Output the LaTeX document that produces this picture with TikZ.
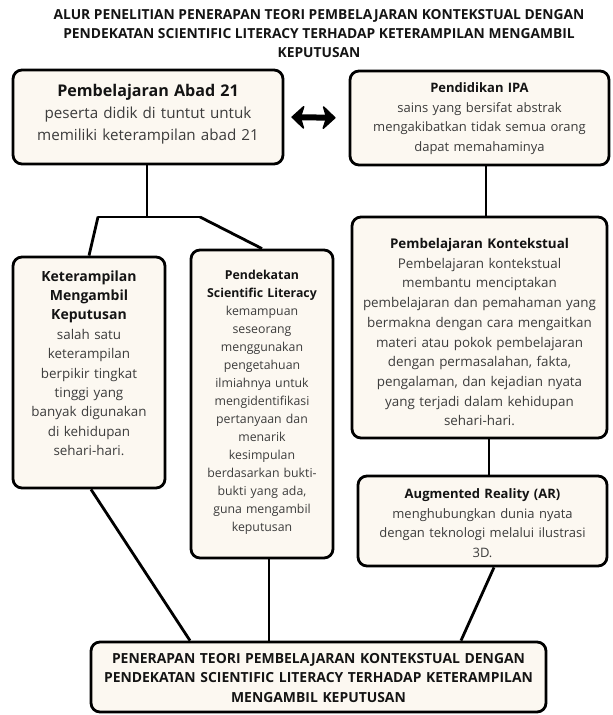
\documentclass[tikz,border=0pt]{standalone}
\usepackage{fontspec}
\setmainfont{Open Sans}
\usetikzlibrary{arrows.meta}
\definecolor{cream}{HTML}{FCF8F1}
\definecolor{bodygray}{HTML}{3C3C3C}
\definecolor{headblack}{HTML}{141414}
\begin{document}
\begin{tikzpicture}[x=1pt,y=-1pt,
  box/.style={draw=black, line width=2.8pt, rounded corners=9pt, fill=cream, align=center, inner sep=0pt, text=bodygray},
  link/.style={draw=black, line width=2.8pt},
  bigtip/.style={arrows={-Stealth[width=26pt,length=14pt,inset=4pt,round,line width=1.5pt]}}]
\fill[white] (0,0) rectangle (613,715);
\useasboundingbox (0,0) rectangle (613,715);

\node[align=center, text=headblack, font=\bfseries\fontsize{13.8}{19}\selectfont] (title) at (319,34)
  {ALUR PENELITIAN PENERAPAN TEORI PEMBELAJARAN KONTEKSTUAL DENGAN\\
   PENDEKATAN SCIENTIFIC LITERACY TERHADAP KETERAMPILAN MENGAMBIL\\
   KEPUTUSAN};

\node[box, minimum width=270, text width=264, text height=26.5, text depth=67.5, font=\fontsize{15.2}{22}\selectfont] (A) at (148,117)
  {{\bfseries\color{headblack}\fontsize{16.1}{22}\selectfont Pembelajaran Abad 21}\\
   peserta didik di tuntut untuk\\
   memiliki keterampilan abad 21};

\node[box, minimum width=259, text width=253, text height=21.5, text depth=72.5, font=\fontsize{13}{19.7}\selectfont] (B) at (479.5,118)
  {{\bfseries\color{headblack}Pendidikan IPA}\\
   sains yang bersifat abstrak\\
   mengakibatkan tidak semua orang\\
   dapat memahaminya};

\node[box, minimum width=152, text width=148, text height=24, text depth=207, font=\fontsize{13.4}{19.4}\selectfont] (C) at (89,372.5)
  {{\bfseries\color{headblack}\fontsize{14}{19.4}\selectfont Keterampilan}\\
   {\bfseries\color{headblack}\fontsize{14}{19.4}\selectfont Mengambil}\\
   {\bfseries\color{headblack}\fontsize{14}{19.4}\selectfont Keputusan}\\
   salah satu\\
   keterampilan\\
   berpikir tingkat\\
   tinggi yang\\
   banyak digunakan\\
   di kehidupan\\
   sehari-hari.};

\node[box, minimum width=142, text width=138, text height=29.5, text depth=278.5, font=\fontsize{12.3}{18}\selectfont] (D) at (262,404)
  {{\bfseries\color{headblack}Pendekatan}\\
   {\bfseries\color{headblack}Scientific Literacy}\\
   kemampuan\\
   seseorang\\
   menggunakan\\
   pengetahuan\\
   ilmiahnya untuk\\
   mengidentifikasi\\
   pertanyaan dan\\
   menarik\\
   kesimpulan\\
   berdasarkan bukti-\\
   bukti yang ada,\\
   guna mengambil\\
   keputusan};

\node[box, minimum width=255, text width=251, text height=31.5, text depth=189.5, font=\fontsize{13.4}{19.7}\selectfont] (E) at (479.5,327.5)
  {{\bfseries\color{headblack}Pembelajaran Kontekstual}\\
   Pembelajaran kontekstual\\
   membantu menciptakan\\
   pembelajaran dan pemahaman yang\\
   bermakna dengan cara mengaitkan\\
   materi atau pokok pembelajaran\\
   dengan permasalahan, fakta,\\
   pengalaman, dan kejadian nyata\\
   yang terjadi dalam kehidupan\\
   sehari-hari.};

\node[box, minimum width=249, text width=245, text height=22.5, text depth=67.5, font=\fontsize{13}{19.7}\selectfont] (AR) at (482.5,521)
  {{\bfseries\color{headblack}Augmented Reality (AR)}\\
   menghubungkan dunia nyata\\
   dengan teknologi melalui ilustrasi\\
   3D.};

\node[box, minimum width=455, text width=451, text height=21, text depth=49, text=headblack, font=\bfseries\fontsize{13.9}{19.5}\selectfont] (F) at (318.5,677)
  {PENERAPAN TEORI PEMBELAJARAN KONTEKSTUAL DENGAN\\
   PENDEKATAN SCIENTIFIC LITERACY TERHADAP KETERAMPILAN\\
   MENGAMBIL KEPUTUSAN};

% junction coordinates
\coordinate (j) at (147,217);
\coordinate (jl) at (98,217);
\coordinate (jr) at (200,217);
\coordinate (xb) at (486,0);
\coordinate (xe) at (489,0);
\coordinate (fc) at (190,0);
\coordinate (fd) at (269,0);
\coordinate (far) at (461,0);
\coordinate (xar) at (494,0);
\coordinate (xa) at (147,0);
\coordinate (xc) at (91,0);

\draw[link] (A.south -| xa) -- (j);
\draw[link, line cap=round] (jl) -- (jr);
\draw[link] (jl) -- (C.north);
\draw[link] (jr) -- (D.north);
\draw[link] (B.south -| xb) -- (E.north -| xb);
\draw[link] (E.south -| xe) -- (AR.north -| xe);
\draw[link] (C.south -| xc) -- (F.north -| fc);
\draw[link] (D.south -| fd) -- (F.north -| fd);
\draw[link] (AR.south -| xar) -- (F.north -| far);

\draw[line width=6pt, {Stealth[width=26pt,length=14pt,inset=4pt,round,line width=1.5pt]}-{Stealth[width=26pt,length=14pt,inset=4pt,round,line width=1.5pt]}, shorten <=7pt, shorten >=13pt] (A.east) -- (B.west);
\end{tikzpicture}
\end{document}
